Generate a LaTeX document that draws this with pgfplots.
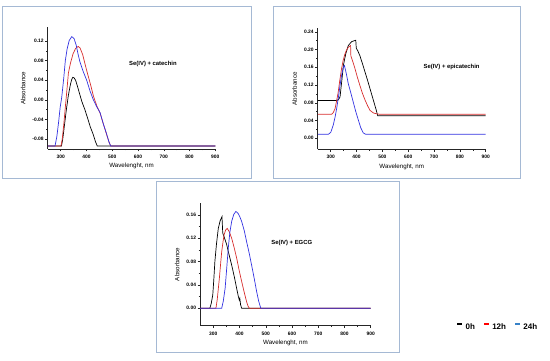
\documentclass[border=0pt]{standalone}
\usepackage{pgfplots}
\pgfplotsset{compat=1.18}
\usepackage{fontspec}
\setmainfont{Liberation Sans}
\definecolor{framec}{RGB}{165,185,212}
\definecolor{cred}{RGB}{215,45,45}
\definecolor{cblue}{RGB}{50,50,225}
\definecolor{lblue}{RGB}{55,130,200}

\pgfplotsset{
  panel/.style={
    scale only axis, anchor=south west,
    axis x line=bottom, axis y line=left,
    axis line style={-, line width=0.65pt, black!85},
    tick style={black!85, line width=0.5pt},
    tick align=outside, major tick length=2.5pt, minor tick length=1.5pt,
    minor x tick num=1, minor y tick num=1,
    xmin=250, xmax=900, xtick={300,400,500,600,700,800,900},
    tick label style={font=\bfseries\fontsize{4.9}{5.5}\selectfont},
    yticklabel style={inner xsep=1.5pt},
    /pgf/number format/assume math mode=true,
    scaled y ticks=false,
    xlabel={Wavelenght, nm}, ylabel={Absorbance},
    label style={font=\fontsize{6.2}{7}\selectfont},
    every axis plot/.append style={line width=0.7pt},
    xlabel style={yshift=2pt}, ylabel style={yshift=2pt},
  },
}
\tikzset{ttl/.style={font=\bfseries\fontsize{5.9}{6.5}\selectfont}}

\begin{document}
\begin{tikzpicture}
\path[use as bounding box] (0pt,0pt) rectangle (550pt,361pt);
% panel frames
\draw[framec, line width=0.9pt] (2pt,355pt) rectangle (251pt,183pt);
\draw[framec, line width=0.9pt] (273pt,355pt) rectangle (520pt,183pt);
\draw[framec, line width=0.9pt] (156pt,180pt) rectangle (399pt,9pt);

% ---------- Panel 1: catechin ----------
\begin{axis}[panel, at={(47.8pt,212pt)}, width=167.5pt, height=121.7pt,
  ymin=-0.10, ymax=0.148,
  ytick={-0.08,-0.04,0,0.04,0.08,0.12},
  yticklabels={-0.08,-0.04,0.00,0.04,0.08,0.12}]
\addplot[black] coordinates {(250,-0.094) (303,-0.094) (308,-0.08) (315,-0.05) (322,-0.02) (330,0.01) (338,0.032) (343,0.042) (347,0.046) (352,0.045) (358,0.04) (365,0.028) (372,0.015) (382,-0.003) (394,-0.02) (405,-0.038) (415,-0.055) (426,-0.07) (435,-0.085) (442,-0.094) (900,-0.094)};
\addplot[cred] coordinates {(250,-0.094) (301,-0.094) (306,-0.08) (312,-0.05) (318,-0.015) (325,0.025) (330,0.055) (338,0.075) (348,0.094) (358,0.105) (368,0.109) (375,0.106) (385,0.093) (395,0.072) (405,0.052) (415,0.033) (427,0.008) (440,-0.012) (453,-0.027) (465,-0.048) (478,-0.07) (487,-0.085) (494,-0.094) (900,-0.094)};
\addplot[cblue] coordinates {(250,-0.094) (278,-0.094) (285,-0.075) (292,-0.045) (298,-0.015) (304,0.005) (312,0.045) (318,0.08) (325,0.104) (333,0.121) (343,0.129) (352,0.125) (360,0.112) (368,0.092) (375,0.077) (388,0.057) (401,0.040) (414,0.018) (427,0.0) (440,-0.014) (453,-0.026) (465,-0.048) (478,-0.069) (487,-0.085) (494,-0.094) (900,-0.094)};
\node[ttl] at (axis cs:658,0.074) {Se(IV) + catechin};
\end{axis}

% ---------- Panel 2: epicatechin ----------
\begin{axis}[panel, at={(317.8pt,211.7pt)}, width=167.9pt, height=121pt,
  ymin=-0.025, ymax=0.248,
  ytick={0,0.04,0.08,0.12,0.16,0.20,0.24},
  yticklabels={0.00,0.04,0.08,0.12,0.16,0.20,0.24}]
\addplot[black] coordinates {(250,0.085) (323,0.085) (330,0.087) (336,0.093) (343,0.13) (349,0.164) (358,0.19) (368,0.209) (381,0.218) (392,0.22) (397,0.221) (399,0.203) (405,0.197) (413,0.186) (423,0.168) (433,0.149) (443,0.13) (452,0.112) (461,0.094) (469,0.078) (476,0.064) (482,0.0506) (900,0.0506)};
\addplot[cred] coordinates {(250,0.054) (304,0.054) (310,0.058) (317,0.067) (323,0.085) (329,0.104) (335,0.13) (342,0.157) (348,0.175) (355,0.19) (362,0.2) (368,0.205) (377,0.209) (378,0.186) (386,0.172) (394,0.157) (403,0.138) (413,0.119) (423,0.101) (433,0.086) (443,0.073) (452,0.063) (465,0.057) (478,0.055) (490,0.054) (900,0.054)};
\addplot[cblue] coordinates {(250,0.009) (291,0.009) (300,0.013) (310,0.03) (317,0.048) (323,0.067) (330,0.093) (336,0.119) (343,0.145) (349,0.16) (353,0.164) (358,0.152) (363,0.138) (368,0.123) (378,0.102) (387,0.082) (397,0.06) (407,0.041) (416,0.024) (426,0.012) (435,0.009) (900,0.009)};
\node[ttl] at (axis cs:768,0.160) {Se(IV) + epicatechin};
\end{axis}

% ---------- Panel 3: EGCG ----------
\begin{axis}[panel, at={(200.2pt,35.3pt)}, width=170.5pt, height=122.4pt,
  ymin=-0.03, ymax=0.18,
  ytick={0,0.04,0.08,0.12,0.16},
  yticklabels={0.00,0.04,0.08,0.12,0.16},
  legend style={at={(1.745,-0.012)}, anchor=center, draw=none, fill=none,
    font=\bfseries\fontsize{8}{9}\selectfont, legend columns=3,
    /tikz/every even column/.append style={column sep=6pt},
    inner sep=0pt},
  legend image code/.code={\draw[#1, line width=2.4pt] (0pt,3.4pt) -- (5pt,3.4pt);}]
\addplot[black, forget plot] coordinates {(250,0) (287,0) (292,0.008) (298,0.023) (302,0.05) (306,0.08) (312,0.11) (319,0.137) (326,0.15) (333,0.157) (336,0.129) (343,0.12) (351,0.109) (360,0.092) (370,0.074) (380,0.054) (389,0.034) (395,0.021) (399,0.014) (401,0.017) (404,0.006) (408,0) (900,0)};
\addplot[cred, forget plot] coordinates {(250,0) (310,0) (315,0.015) (319,0.033) (323,0.051) (328,0.077) (332,0.097) (337,0.114) (341,0.126) (347,0.134) (353,0.137) (361,0.131) (370,0.12) (380,0.103) (389,0.086) (398,0.066) (408,0.046) (418,0.027) (427,0.011) (432,0.004) (437,0) (900,0)};
\addplot[cblue, forget plot] coordinates {(250,0) (332,0) (338,0.012) (345,0.034) (351,0.068) (357,0.103) (363,0.13) (370,0.149) (378,0.161) (386,0.166) (394,0.163) (401,0.157) (408,0.149) (418,0.133) (427,0.114) (437,0.094) (446,0.074) (456,0.051) (465,0.029) (473,0.012) (481,0) (900,0)};
\node[ttl] at (axis cs:599,0.1125) {Se(IV) + EGCG};
\addlegendimage{black}\addlegendentry{0h}
\addlegendimage{red}\addlegendentry{12h}
\addlegendimage{lblue}\addlegendentry{24h}
\end{axis}
\end{tikzpicture}
\end{document}
